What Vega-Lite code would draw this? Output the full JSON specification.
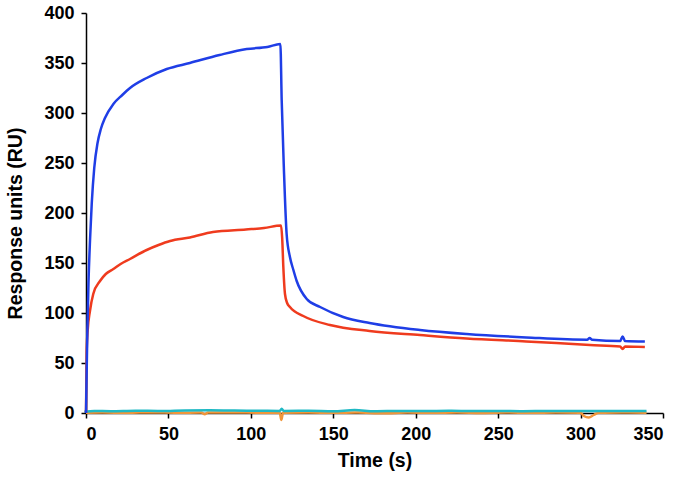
{
  "$schema": "https://vega.github.io/schema/vega-lite/v6.json",
  "autosize": {"type": "none"},
  "width": 577,
  "height": 400,
  "padding": {"left": 86, "top": 13, "right": 21, "bottom": 65},
  "background": "white",
  "config": {
    "view": {"stroke": null},
    "font": "Liberation Sans",
    "axis": {
      "grid": false,
      "domainColor": "black",
      "domainWidth": 1.5,
      "tickColor": "black",
      "tickWidth": 1.5,
      "tickSize": 5,
      "labelFont": "Liberation Sans",
      "labelFontWeight": "bold",
      "labelFontSize": 18,
      "labelColor": "black",
      "titleFont": "Liberation Sans",
      "titleFontWeight": "bold",
      "titleFontSize": 19.5,
      "titleColor": "black"
    }
  },
  "data": {
    "values": [
      {"s": "s1", "t": 0, "v": 0.3},
      {"s": "s1", "t": 10, "v": 0.5},
      {"s": "s1", "t": 25, "v": 0.2},
      {"s": "s1", "t": 40, "v": 0.6},
      {"s": "s1", "t": 55, "v": 0.3},
      {"s": "s1", "t": 70, "v": 0.4},
      {"s": "s1", "t": 72, "v": -1.2},
      {"s": "s1", "t": 74, "v": 0.4},
      {"s": "s1", "t": 90, "v": 0.5},
      {"s": "s1", "t": 105, "v": 0.3},
      {"s": "s1", "t": 117.5, "v": 0.4},
      {"s": "s1", "t": 118.5, "v": -7},
      {"s": "s1", "t": 119.5, "v": 0.2},
      {"s": "s1", "t": 135, "v": 0.5},
      {"s": "s1", "t": 150, "v": 0.2},
      {"s": "s1", "t": 165, "v": 0.4},
      {"s": "s1", "t": 180, "v": -0.3},
      {"s": "s1", "t": 195, "v": 0.4},
      {"s": "s1", "t": 210, "v": 0.2},
      {"s": "s1", "t": 225, "v": 0.5},
      {"s": "s1", "t": 240, "v": 0.1},
      {"s": "s1", "t": 255, "v": 0.4},
      {"s": "s1", "t": 270, "v": 0.2},
      {"s": "s1", "t": 285, "v": 0.4},
      {"s": "s1", "t": 300, "v": 0.2},
      {"s": "s1", "t": 302, "v": -3},
      {"s": "s1", "t": 305, "v": -4.5},
      {"s": "s1", "t": 308, "v": -2},
      {"s": "s1", "t": 311, "v": 0.3},
      {"s": "s1", "t": 325, "v": 0.4},
      {"s": "s1", "t": 340, "v": 0.2},

      {"s": "s2", "t": -1, "v": 1.2},
      {"s": "s2", "t": 5, "v": 2.0},
      {"s": "s2", "t": 15, "v": 1.8},
      {"s": "s2", "t": 30, "v": 2.3},
      {"s": "s2", "t": 45, "v": 2.0},
      {"s": "s2", "t": 60, "v": 2.6},
      {"s": "s2", "t": 75, "v": 2.8},
      {"s": "s2", "t": 90, "v": 2.4},
      {"s": "s2", "t": 105, "v": 2.3},
      {"s": "s2", "t": 117.5, "v": 2.1},
      {"s": "s2", "t": 118.7, "v": 4.2},
      {"s": "s2", "t": 120, "v": 2.0},
      {"s": "s2", "t": 135, "v": 2.2},
      {"s": "s2", "t": 150, "v": 1.8},
      {"s": "s2", "t": 163, "v": 2.9},
      {"s": "s2", "t": 175, "v": 1.8},
      {"s": "s2", "t": 190, "v": 2.1},
      {"s": "s2", "t": 205, "v": 1.9},
      {"s": "s2", "t": 220, "v": 2.2},
      {"s": "s2", "t": 235, "v": 2.0},
      {"s": "s2", "t": 250, "v": 2.1},
      {"s": "s2", "t": 265, "v": 1.8},
      {"s": "s2", "t": 280, "v": 2.0},
      {"s": "s2", "t": 295, "v": 1.9},
      {"s": "s2", "t": 310, "v": 2.0},
      {"s": "s2", "t": 325, "v": 2.1},
      {"s": "s2", "t": 340, "v": 2.0},

      {"s": "s3", "t": 0, "v": 0},
      {"s": "s3", "t": 0.4, "v": 60},
      {"s": "s3", "t": 1, "v": 82},
      {"s": "s3", "t": 2.4, "v": 102},
      {"s": "s3", "t": 4.4, "v": 119},
      {"s": "s3", "t": 8.5, "v": 132},
      {"s": "s3", "t": 12, "v": 139},
      {"s": "s3", "t": 16.6, "v": 144},
      {"s": "s3", "t": 21, "v": 149},
      {"s": "s3", "t": 26.7, "v": 154},
      {"s": "s3", "t": 36.8, "v": 163},
      {"s": "s3", "t": 44, "v": 168},
      {"s": "s3", "t": 51, "v": 172},
      {"s": "s3", "t": 63, "v": 175.5},
      {"s": "s3", "t": 77, "v": 181},
      {"s": "s3", "t": 97, "v": 183.5},
      {"s": "s3", "t": 108, "v": 185},
      {"s": "s3", "t": 118.3, "v": 187.5},
      {"s": "s3", "t": 119, "v": 175},
      {"s": "s3", "t": 119.7, "v": 146},
      {"s": "s3", "t": 120.7, "v": 119},
      {"s": "s3", "t": 122, "v": 110},
      {"s": "s3", "t": 123.7, "v": 106},
      {"s": "s3", "t": 131.8, "v": 97},
      {"s": "s3", "t": 148, "v": 88},
      {"s": "s3", "t": 172, "v": 82},
      {"s": "s3", "t": 202.6, "v": 78},
      {"s": "s3", "t": 230.9, "v": 74.6},
      {"s": "s3", "t": 267, "v": 71.6},
      {"s": "s3", "t": 305.7, "v": 68},
      {"s": "s3", "t": 324, "v": 66.5},
      {"s": "s3", "t": 325.5, "v": 64},
      {"s": "s3", "t": 327, "v": 66.5},
      {"s": "s3", "t": 339, "v": 66},

      {"s": "s4", "t": 0, "v": 0},
      {"s": "s4", "t": 0.3, "v": 30},
      {"s": "s4", "t": 0.8, "v": 80},
      {"s": "s4", "t": 1.5, "v": 130},
      {"s": "s4", "t": 2.5, "v": 175},
      {"s": "s4", "t": 3.5, "v": 210},
      {"s": "s4", "t": 5, "v": 245},
      {"s": "s4", "t": 7, "v": 270},
      {"s": "s4", "t": 9, "v": 284},
      {"s": "s4", "t": 11.5, "v": 295},
      {"s": "s4", "t": 16.6, "v": 309},
      {"s": "s4", "t": 22, "v": 318},
      {"s": "s4", "t": 26.7, "v": 325},
      {"s": "s4", "t": 36.8, "v": 335},
      {"s": "s4", "t": 49, "v": 344},
      {"s": "s4", "t": 63, "v": 350},
      {"s": "s4", "t": 81, "v": 358},
      {"s": "s4", "t": 97.5, "v": 364},
      {"s": "s4", "t": 110, "v": 366},
      {"s": "s4", "t": 117.9, "v": 369},
      {"s": "s4", "t": 118.7, "v": 313},
      {"s": "s4", "t": 120, "v": 246},
      {"s": "s4", "t": 121.7, "v": 179},
      {"s": "s4", "t": 123.7, "v": 156},
      {"s": "s4", "t": 125.8, "v": 143},
      {"s": "s4", "t": 127.8, "v": 132},
      {"s": "s4", "t": 133.9, "v": 114},
      {"s": "s4", "t": 142, "v": 106},
      {"s": "s4", "t": 156, "v": 96},
      {"s": "s4", "t": 172, "v": 90},
      {"s": "s4", "t": 202.6, "v": 83},
      {"s": "s4", "t": 230.9, "v": 79},
      {"s": "s4", "t": 267, "v": 75.6},
      {"s": "s4", "t": 304, "v": 73.3},
      {"s": "s4", "t": 305.5, "v": 75},
      {"s": "s4", "t": 307, "v": 73.2},
      {"s": "s4", "t": 324, "v": 72},
      {"s": "s4", "t": 325.5, "v": 76.5},
      {"s": "s4", "t": 327, "v": 72},
      {"s": "s4", "t": 339, "v": 71.5}
    ]
  },
  "mark": {"type": "line", "strokeWidth": 2.5, "clip": false, "interpolate": "monotone"},
  "encoding": {
    "x": {
      "field": "t",
      "type": "quantitative",
      "scale": {"domain": [0, 350], "nice": false, "zero": false},
      "axis": {"title": "Time (s)", "values": [0, 50, 100, 150, 200, 250, 300, 350], "labelPadding": 7, "titlePadding": 8}
    },
    "y": {
      "field": "v",
      "type": "quantitative",
      "scale": {"domain": [0, 400], "nice": false},
      "axis": {"title": "Response units (RU)", "values": [0, 50, 100, 150, 200, 250, 300, 350, 400], "labelPadding": 7, "titleX": -61, "titleY": 210}
    },
    "color": {
      "field": "s",
      "type": "nominal",
      "scale": {"domain": ["s1", "s2", "s3", "s4"], "range": ["#f0963a", "#1fb9c4", "#ef3b1e", "#1f3ee6"]},
      "legend": null
    },
    "order": {"field": "t", "type": "quantitative"}
  }
}
